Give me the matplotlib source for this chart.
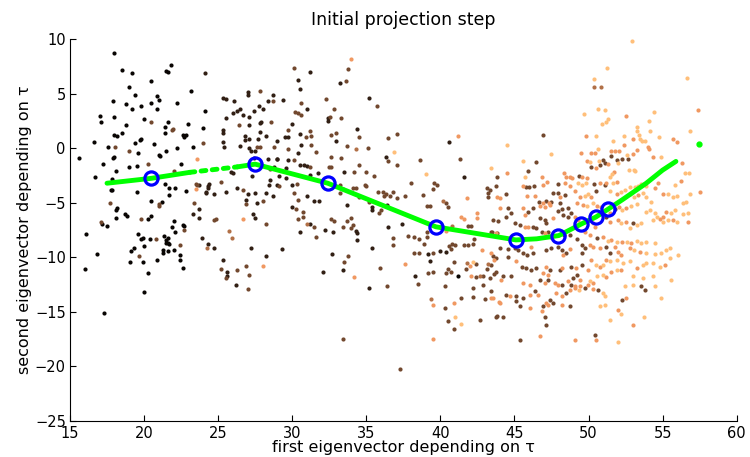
import numpy as np
import matplotlib
matplotlib.use("Agg")
import matplotlib.pyplot as plt

# scatter points, grouped by shade (position along the curve -> copper colormap)
black_pts = [(15.6,-0.86),(17.97,8.75),(18.5,7.2),(19.2,6.9),(20.5,6.2),(21.8,7.6),(21.5,7.1),(21.6,7.0),
    (19.0,5.6),(19.4,4.9),(17.9,4.3),(18.8,4.1),(19.2,3.6),(19.8,3.9),(20.5,4.2),(20.9,4.8),(21.0,4.4),
    (20.85,3.6),(22.2,4.2),(23.2,5.3),(24.1,3.4),(17.0,3.0),(17.1,2.4),(18.0,2.9),(18.8,2.1),(20.0,2.7),
    (21.4,2.0),(21.6,2.4),(21.4,1.4),(23.0,2.2),(24.0,1.9),(18.0,1.2),(18.15,1.15),(18.5,1.4),(16.6,0.55),
    (17.6,0.15),(19.4,0.5),(19.7,0.8),(19.8,0.9),(19.6,-0.4),(20.7,0.4),(21.0,-0.6),(21.1,-0.7),(21.5,-0.2),
    (22.2,0.03),(22.6,1.2),(22.7,1.0),(22.8,1.2),(23.3,0.1),(17.9,-0.86),(18.0,-0.8),(17.2,-1.4),(18.1,-2.05),
    (19.0,-1.7),(19.5,-1.6),(22.5,-1.4),(16.7,-2.6),(17.85,-2.8),
    (17.75,-3.8),(17.85,-3.8),(19.5,-4.0),(18.2,-5.5),(18.1,-5.7),(20.5,-4.8),(21.2,-4.9),(21.4,-3.3),
    (21.7,-3.6),(22.1,-3.6),(21.7,-4.3),(22.8,-3.9),(18.7,-6.0),(18.85,-6.2),(18.1,-6.4),(20.3,-6.5),
    (20.45,-6.2),(17.15,-6.9),(17.5,-7.1),(16.1,-7.9),(22.0,-6.7),(21.9,-7.2),(22.65,-7.0),(22.7,-7.1),
    (22.1,-7.7),(19.6,-7.9),(19.8,-8.3),(19.9,-8.2),(20.4,-8.3),(21.35,-8.0),(21.5,-8.4),(21.6,-8.2),
    (21.65,-8.7),(21.5,-8.7),(21.7,-8.75),(21.65,-9.4),(21.3,-9.3),(22.0,-9.3),(19.3,-9.1),(19.1,-9.4),
    (20.0,-9.0),(16.85,-9.7),(22.4,-9.8),(22.4,-10.2),(20.9,-10.2),(21.3,-9.6),(19.05,-10.4),(19.9,-10.4),
    (16.0,-11.1),(22.65,-11.0),(20.3,-11.4),(19.97,-13.2),(17.3,-15.1),(41.2,-11.7)]

darkbrown_pts = [(24.1,6.9),(25.35,4.6),(25.5,4.55),(26.1,4.3),(27.0,5.2),(27.0,4.9),(28.7,4.9),(28.4,4.3),
    (27.75,3.9),(27.4,3.4),(28.0,3.6),(26.3,3.4),(26.5,3.6),(26.0,3.2),(26.7,3.1),(27.1,2.9),(25.5,2.8),
    (27.9,2.4),(27.85,2.3),(27.1,2.1),(25.3,1.7),(25.35,1.45),(26.8,1.15),(26.8,0.76),(27.8,1.5),(28.2,1.1),
    (27.1,0.85),(27.7,0.85),(26.5,0.2),(27.1,0.0),(27.2,-0.25),(27.5,-0.25),(29.0,0.7),(28.4,-1.0),
    (27.4,-0.9),(29.0,-1.0),(25.9,-2.2),(25.3,0.55),(25.4,0.1),
    (23.7,-3.4),(24.4,-3.3),(24.2,-4.0),(24.2,-4.1),(24.7,-4.2),(24.3,-3.6),(24.35,-3.5),(25.5,-4.0),
    (26.0,-2.3),(26.3,-3.6),(27.0,-4.2),(26.85,-4.7),(27.3,-2.5),(27.5,-4.1),(27.6,-5.0),(28.2,-4.1),
    (28.45,-3.4),(28.5,-2.9),(28.7,-4.4),(23.7,-5.6),(23.3,-6.0),(23.7,-6.4),(27.35,-6.0),(27.5,-6.4),
    (23.9,-8.2),(24.3,-8.8),(24.75,-9.1),(27.2,-9.1),(28.25,-9.9),(25.3,-10.2),(25.6,-11.3),(25.6,-11.7),
    (26.2,-12.5),
    (31.2,7.0),(30.4,6.25),(33.2,6.0),(30.5,5.4),(29.4,4.4),(35.2,4.6),(31.0,3.6),(32.4,2.8),(32.45,2.5),
    (30.0,2.25),(30.5,1.35),(29.5,1.0),(29.75,1.0),(34.4,1.8),(32.95,0.7),(40.6,0.6),(30.6,0.35),
    (30.4,-0.45),(29.0,-1.0),(29.75,-1.05),(36.3,-0.75),(30.5,-1.55),(30.8,-1.5),(31.0,-1.65),(29.6,-1.8),
    (28.8,-1.7),(33.5,-2.2),(41.6,-2.6),(29.1,-2.57),(29.6,-2.7),(31.2,-2.48),(31.76,-2.3),
    (29.96,-3.4),(28.95,-3.4),(31.0,-4.4),(31.5,-4.8),(31.8,-4.8),(30.0,-5.4),(31.2,-6.9),(30.5,-7.7),
    (32.2,-7.5),(32.75,-7.7),(29.3,-9.25),(32.7,-9.7),(32.1,-11.3),(33.4,-11.15),(33.7,-5.2),(34.3,-7.6),
    (34.4,-7.8),(34.4,-8.4),(35.4,-5.7),(35.4,-5.35),(36.4,-5.2),(35.4,-9.1),(35.2,-12.8),(36.5,-7.2),
    (37.4,-6.9),(38.3,-11.75),(39.2,-9.7),(39.3,-10.3),(40.0,-9.4),(40.4,-9.5)]

brown_pts = [(20.5,2.4),(21.9,1.7),(21.95,1.8),(18.05,0.1),(19.0,-0.25),(23.95,0.5),(20.3,-1.4),(22.0,-2.05),
    (27.8,5.3),(28.7,4.3),(28.6,2.4),(26.4,2.1),(27.6,0.1),(27.85,0.1),(28.8,0.15),(28.5,-1.9),
    (17.7,-5.0),(21.0,-5.1),(21.0,-5.25),(19.8,-6.5),(17.1,-6.75),(22.7,-7.5),(20.8,-8.3),(22.4,-8.9),
    (19.65,-9.9),(23.5,-3.3),(23.6,-3.4),(25.2,-3.1),(26.7,-3.8),(26.85,-5.1),(28.0,-4.8),(29.1,-3.5),
    (23.4,-5.0),(24.7,-6.6),(24.85,-6.5),(28.2,-6.9),(25.2,-11.1),(25.5,-11.9),(26.3,-11.2),(26.9,-10.75),
    (27.1,-11.6),(27.05,-12.9),
    (30.1,7.4),(33.8,7.3),(33.65,6.2),(32.3,4.5),(35.7,3.85),(30.6,4.15),(32.8,3.65),(30.2,3.3),(30.4,3.2),
    (30.6,3.05),(32.55,2.85),(33.3,2.8),(29.7,1.65),(31.2,1.6),(30.9,1.05),(31.3,1.1),(32.6,1.25),
    (32.95,1.4),(34.5,1.0),(36.5,0.95),(37.1,1.35),(31.3,0.3),(33.7,0.2),(29.7,-0.05),(31.6,-0.35),
    (35.15,0.0),(30.1,-1.05),(32.65,-0.8),(33.3,-0.9),(36.5,-1.2),(38.6,-1.1),(41.3,-1.0),(31.2,-1.7),
    (32.5,-1.7),(32.6,-1.75),(34.5,-1.5),(37.1,-1.5),(34.2,-2.2),(35.0,-2.2),(35.5,-2.5),(43.8,-2.6),
    (30.3,-3.3),(30.1,-4.1),(30.4,-4.7),(30.25,-5.6),(30.7,-5.8),(30.7,-6.3),(30.4,-6.5),(31.5,-7.2),
    (31.6,-8.1),(32.6,-6.5),(32.8,-6.7),(33.5,-10.4),(33.8,-9.9),(33.4,-7.2),(33.7,-6.7),(34.0,-6.4),
    (34.0,-7.3),(34.1,-7.0),(33.2,-4.1),(33.2,-3.4),(33.45,-3.7),(34.1,-3.6),(34.3,-3.6),(34.9,-3.4),
    (35.0,-3.45),(34.5,-4.5),(35.2,-4.9),(35.8,-4.0),(36.1,-4.0),(35.85,-5.9),(36.0,-5.65),(36.2,-4.4),
    (36.35,-4.2),(36.6,-4.4),(36.8,-4.0),(37.1,-4.6),(37.6,-4.4),(35.9,-11.0),(36.4,-12.6),(36.8,-8.2),
    (36.8,-8.9),(33.4,-17.5),(37.3,-20.2),(37.85,-8.0),(38.0,-3.15),(38.2,-8.1),(38.55,-8.3),(39.1,-8.1),
    (38.9,-8.8),(38.2,-9.6),(38.55,-9.6),(38.5,-12.4),(38.85,-4.3),(39.1,-5.3),(39.3,-5.25),(39.6,-3.2),
    (39.75,-3.4),(39.5,-3.7),(39.1,-7.7),(39.5,-9.6),(39.2,-11.4),(39.5,-11.3),(40.35,-5.0),(40.5,-5.4),
    (40.6,-8.95),(40.8,-8.8),(41.0,-8.9),(40.7,-9.2),(40.9,-10.4),(40.5,-11.1),(40.7,-11.3),(40.4,-11.4),
    (40.3,-12.6),(40.3,-14.6),(40.55,-15.8),(40.9,-16.6),(41.4,-13.7),(41.9,-7.1),(42.1,-7.1),(42.3,-8.3),
    (41.6,-8.9),(41.9,-8.85),(42.2,-8.8),(42.4,-10.6),(41.7,-11.05),(42.4,-11.8),(42.9,-11.7),(42.2,-12.8),
    (42.2,-13.6),(42.65,-15.75),(42.85,-12.5),(43.0,-13.8),(43.15,-3.6),(43.2,-4.1),(43.2,-4.5),
    (43.15,-11.05),(43.4,-10.7),(43.4,-13.1),(43.5,-7.7),(43.8,-7.8),(43.6,-11.55),(43.8,-15.4),(43.9,-6.7),
    (46.96,1.19),(51.5,-0.74),(50.99,-1.07),(51.1,-1.32),(51.91,-1.07),(52.29,-1.01),(52.67,-1.01),
    (46.49,-1.28),(45.93,-2.05),(50.2,-1.71),(50.79,-1.53),(49.37,-2.51),
    (45.77,-3.51),(46.0,-3.51),(46.31,-3.45),(47.93,-3.27),(50.38,-3.3),(51.1,-3.36),(43.34,-3.82),
    (43.79,-3.42),(44.46,-4.18),(46.67,-4.89),(47.16,-4.83),(47.5,-4.89),(47.61,-4.06),(47.95,-4.06),
    (48.4,-4.28),(50.49,-3.88),(44.58,-5.5),(44.8,-5.96),(45.93,-5.8),(46.26,-5.5),(48.06,-5.04),
    (47.95,-5.71),(48.24,-5.59),(48.63,-5.44),(48.85,-5.89),(51.77,-5.59),(43.56,-6.57),(44.46,-6.26),
    (46.71,-6.41),(47.05,-6.57),(47.16,-6.87),(48.29,-6.11),(48.63,-6.26),(51.17,-6.26),(52.97,-6.87),
    (43.45,-7.63),(45.03,-6.87),(45.36,-7.02),(46.26,-7.18),(46.49,-7.33),(46.83,-7.63),(47.28,-7.63),
    (47.5,-8.09),(48.33,-7.97),(48.74,-7.94),(49.23,-8.34),(50.54,-8.24),(51.21,-9.01),(51.44,-9.56),
    (49.53,-8.85),(49.75,-9.16),(49.53,-9.62),(48.51,-9.62),(47.95,-9.01),(48.18,-9.31),(47.16,-9.31),
    (47.5,-9.16),(46.26,-9.62),(45.59,-9.62),(45.86,-9.77),(45.25,-9.31),(45.03,-9.16),(44.01,-9.16),
    (44.58,-9.25),(43.56,-9.92),(43.79,-10.08),(44.58,-10.01),(45.48,-10.84),(45.81,-10.99),(46.15,-11.14),
    (46.49,-10.99),(47.39,-11.14),(48.06,-11.14),(48.85,-10.84),(49.53,-10.69),(43.79,-11.3),(44.24,-11.75),
    (43.34,-11.91),(44.8,-11.75),(46.71,-12.06),(47.28,-12.06),(48.18,-12.52),(48.85,-12.52),(49.75,-12.82),
    (48.96,-11.91),(49.23,-11.6),(53.57,-12.67),(44.42,-13.43),(45.14,-13.59),(45.59,-13.74),(46.38,-13.13),
    (47.39,-13.89),(48.47,-13.28),(50.65,-12.98),(52.29,-13.89),(53.8,-12.98),(45.14,-14.04),(45.36,-14.44),
    (46.94,-14.5),(47.61,-14.2),(48.74,-14.44),(43.79,-15.51),(44.24,-15.48),(47.05,-15.51),(47.12,-16.18),
    (45.36,-17.62),(50.42,-17.1)]

rust_pts = [(34.3,-0.1),(25.75,-7.6),(25.95,-8.2),(24.25,-9.1),(31.0,-6.95),(39.4,-13.8),(40.2,-4.8),
    (40.8,-7.1),(41.8,-10.5),(42.7,-11.7),(43.25,-10.6),(50.34,5.58),(50.83,5.61)]

orange_pts = [(23.55,-1.0),(23.5,-3.7),(26.7,-6.5),(28.0,-10.8),(33.96,8.2),(41.2,1.1),(34.2,-11.8),
    (37.6,-10.6),(39.5,-14.4),(39.5,-17.5),(41.4,-6.3),(41.6,-6.5),(40.4,-7.6),(40.9,-14.2),(41.8,-4.6),
    (42.5,-5.9),(42.5,-6.35),(42.0,-10.8),(42.1,-11.7),(42.8,-9.3),(43.4,-13.7),(43.4,-9.6),(43.6,-10.2),
    (44.1,-12.1),(43.97,-14.1),(43.8,-4.5),
    (57.38,3.51),(52.54,2.99),(49.86,1.12),(53.01,0.85),(55.69,0.88),(55.94,0.58),(52.38,0.33),
    (53.26,-0.16),(54.02,0.09),(54.11,-0.03),(51.55,-0.25),(51.8,-0.25),(52.09,-0.25),(50.2,-0.43),
    (50.45,-0.43),(49.5,-0.46),(53.01,-0.49),(54.34,-0.83),(51.32,-1.47),(49.89,-1.16),(44.49,-2.26),
    (50.49,-1.8),(51.75,-2.14),(48.33,-2.23),(46.89,-2.63),(48.45,-2.63),(48.78,-2.6),(48.92,-2.72),
    (49.53,-2.63),(49.93,-2.69),(56.3,-1.32),
    (45.59,-3.42),(46.94,-3.36),(47.21,-3.06),(48.42,-3.21),(48.74,-3.45),(50.76,-3.21),(51.21,-3.15),
    (51.89,-3.06),(54.47,-3.67),(54.7,-3.21),(56.25,-2.96),(44.06,-4.58),(45.86,-4.37),(46.38,-4.37),
    (46.94,-4.98),(47.34,-5.04),(48.11,-4.43),(49.08,-3.88),(49.41,-4.43),(50.15,-4.43),(51.89,-4.19),
    (53.35,-4.28),(55.04,-4.19),(57.51,-3.97),(44.01,-5.5),(45.59,-5.5),(46.71,-5.28),(47.05,-5.34),
    (47.39,-5.19),(49.23,-5.04),(49.64,-5.19),(50.54,-5.28),(50.87,-5.41),(51.44,-5.89),(52.07,-5.34),
    (52.56,-5.5),(55.04,-6.26),(55.26,-5.8),(45.7,-6.11),(47.61,-6.41),(49.08,-6.26),(49.3,-6.57),
    (49.97,-6.57),(50.42,-7.18),(51.44,-6.72),(52.0,-6.57),(52.56,-6.72),(54.81,-6.5),(55.67,-6.57),
    (56.72,-6.72),(43.79,-7.79),(45.7,-7.18),(45.93,-7.18),(47.05,-7.79),(49.75,-7.63),(50.09,-7.94),
    (50.99,-8.09),(51.55,-8.4),(52.29,-8.55),(52.9,-8.64),(52.79,-9.16),(53.46,-9.47),(51.77,-9.01),
    (52.0,-9.47),(52.22,-9.77),(50.09,-8.85),(50.31,-9.01),(50.76,-9.16),(48.74,-9.25),(48.29,-9.77),
    (46.15,-9.01),(45.14,-10.38),(47.16,-10.84),(48.18,-10.99),(46.94,-11.45),(47.28,-11.6),(49.19,-11.02),
    (49.97,-11.14),(50.2,-10.23),(50.76,-10.84),(51.21,-10.23),(53.24,-10.99),(55.15,-10.69),(45.59,-12.37),
    (46.04,-12.52),(47.05,-12.37),(47.73,-12.37),(47.95,-12.52),(48.63,-12.21),(49.08,-12.67),(49.41,-12.67),
    (49.97,-12.52),(49.46,-12.06),(50.31,-12.37),(51.21,-11.82),(51.55,-11.3),(52.22,-11.14),(43.56,-13.74),
    (44.69,-13.59),(46.04,-13.43),(46.6,-13.43),(47.16,-14.2),(47.84,-13.28),(48.18,-13.52),(48.74,-12.98),
    (49.08,-12.82),(50.31,-12.91),(52.56,-13.74),(44.01,-14.2),(46.04,-14.65),(47.28,-14.35),(48.18,-14.35),
    (52.0,-14.81),(46.83,-14.9),(52.97,-16.18),(46.71,-17.25),(49.08,-17.56),(50.49,-17.56)]

light_pts = [(36.9,-0.3),(43.45,-1.8),(39.0,-2.35),(41.0,-15.45),(41.4,-16.1),(42.2,-10.4),
    (52.92,9.89),(51.26,7.41),(50.4,6.38),(56.66,6.47),(50.65,3.57),(51.1,3.51),(49.73,3.17),(54.45,3.29),
    (51.32,2.71),(51.19,2.41),(50.92,2.19),(54.11,2.53),(53.26,1.98),(53.24,1.58),(54.16,1.55),(56.84,1.58),
    (50.52,1.16),(52.38,1.12),(53.39,1.19),(53.48,0.85),(53.64,0.67),(53.84,0.7),(54.77,1.03),(51.68,0.67),
    (44.49,0.33),(50.65,-0.07),(47.48,-0.49),(52.61,-0.61),(54.9,-0.83),(50.74,-1.13),(51.98,-1.32),
    (50.11,-1.28),(45.59,-1.16),(52.7,-2.02),(53.06,-2.02),(53.17,-2.11),(45.7,-2.6),(51.44,-2.63),
    (51.57,-2.35),(56.52,-2.29),(56.75,-2.23),
    (49.3,-3.15),(49.53,-3.36),(49.86,-3.21),(51.66,-3.21),(52.79,-3.51),(53.17,-3.57),(53.35,-3.42),
    (53.57,-3.27),(53.91,-3.45),(55.82,-3.33),(49.75,-4.37),(49.97,-4.19),(51.44,-3.88),(52.16,-3.97),
    (52.45,-3.82),(52.79,-4.19),(53.08,-4.43),(53.69,-4.12),(53.91,-4.43),(54.25,-4.89),(55.37,-4.19),
    (55.71,-4.43),(55.94,-4.37),(56.39,-5.04),(56.61,-4.89),(56.84,-4.19),(49.91,-5.28),(50.31,-5.04),
    (52.29,-5.65),(52.9,-5.28),(53.24,-5.13),(53.91,-5.8),(54.18,-5.65),(54.47,-5.96),(55.6,-5.96),
    (55.82,-5.65),(56.39,-6.02),(56.72,-5.89),(50.31,-6.87),(52.22,-6.87),(52.79,-7.33),(53.24,-7.02),
    (53.57,-6.87),(54.36,-6.57),(54.59,-6.26),(55.04,-6.72),(55.37,-6.57),(55.94,-6.72),(51.32,-8.46),
    (51.89,-8.55),(52.63,-8.55),(53.24,-8.46),(53.57,-8.7),(53.91,-8.55),(54.47,-8.64),(53.06,-9.37),
    (53.91,-9.62),(54.47,-9.68),(54.92,-9.56),(55.22,-9.31),(55.49,-9.16),(56.05,-9.77),(50.49,-10.69),
    (50.99,-10.69),(51.44,-10.38),(51.89,-10.23),(52.34,-10.53),(52.79,-10.29),(53.69,-10.69),(53.91,-10.53),
    (54.36,-10.53),(54.81,-10.84),(55.49,-10.08),(50.09,-12.21),(50.54,-11.75),(50.99,-11.6),(51.89,-11.14),
    (52.45,-12.67),(53.01,-12.52),(54.47,-12.67),(53.01,-11.75),(53.69,-11.91),(54.36,-11.75),(55.6,-12.06),
    (49.37,-12.98),(50.99,-13.28),(51.1,-13.59),(54.86,-13.74),(50.76,-14.5),(51.1,-14.35),(52.22,-15.17),
    (51.44,-15.72),(53.73,-15.51),(52.0,-17.74)]

# copper colormap level for each shade group
shade_levels = {"black": 0.03, "darkbrown": 0.16, "brown": 0.36, "rust": 0.56, "orange": 0.76, "light": 0.96}

# projection curve (green) and its nodes (blue circles)
curve_solid1_x = [17.5, 20.5, 23.1]
curve_solid1_y = [-3.2, -2.75, -2.2]
curve_dotted_x = [23.1, 26.3]
curve_dotted_y = [-2.2, -1.7]
curve_solid2_x = [26.3, 27.5, 32.4, 39.7, 45.1, 46.5, 48.0, 49.5, 50.5, 51.3, 52.3, 53.9, 55.0, 55.9]
curve_solid2_y = [-1.7, -1.45, -3.2, -7.2, -8.4, -8.3, -8.0, -6.95, -6.3, -5.6, -4.7, -3.2, -2.0, -1.2]
curve_end_x = [57.46]
curve_end_y = [0.37]
node_x = [20.5, 27.5, 32.4, 39.7, 45.1, 47.95, 49.5, 50.5, 51.3]
node_y = [-2.75, -1.45, -3.2, -7.2, -8.4, -8.0, -6.95, -6.3, -5.6]

fig = plt.figure(figsize=(7.5, 4.57), dpi=100)
ax = fig.add_axes([0.0933, 0.079, 0.8889, 0.835])

groups = [("black", black_pts), ("darkbrown", darkbrown_pts), ("brown", brown_pts),
          ("rust", rust_pts), ("orange", orange_pts), ("light", light_pts)]
for name, pts in groups:
    arr = np.array(pts)
    ax.scatter(arr[:, 0], arr[:, 1], s=9, color=plt.cm.copper(shade_levels[name]),
               linewidths=0, zorder=2)

green = "#00ff00"
ax.plot(curve_solid1_x, curve_solid1_y, color=green, lw=3.5, solid_capstyle="round", zorder=3)
ax.plot(curve_dotted_x, curve_dotted_y, color=green, lw=3.5, linestyle=(0, (1.0, 1.3)),
        dash_capstyle="round", zorder=3)
ax.plot(curve_solid2_x, curve_solid2_y, color=green, lw=3.5, solid_capstyle="round", zorder=3)
ax.plot(curve_end_x, curve_end_y, "o", color=green, ms=3.5, zorder=3)
ax.plot(node_x, node_y, "o", mfc="none", mec="#0000ff", ms=9.5, mew=2.3, zorder=4)

ax.set_xlim(15, 60)
ax.set_ylim(-25, 10)
ax.set_xticks(np.arange(15, 61, 5))
ax.set_yticks(np.arange(-25, 11, 5))
ax.tick_params(direction="in", length=4, width=0.8, labelsize=10.5)
ax.tick_params(axis="x", pad=4)
ax.tick_params(axis="y", pad=3)
ax.spines["top"].set_visible(False)
ax.spines["right"].set_visible(False)
for s in ("left", "bottom"):
    ax.spines[s].set_linewidth(0.8)

ax.set_title("Initial projection step", fontsize=12.5, pad=10)
ax.set_xlabel("first eigenvector depending on τ", fontsize=11.5, labelpad=-1)
ax.set_ylabel("second eigenvector depending on τ", fontsize=11.5, labelpad=2)

fig.savefig("out.png", dpi=100)
